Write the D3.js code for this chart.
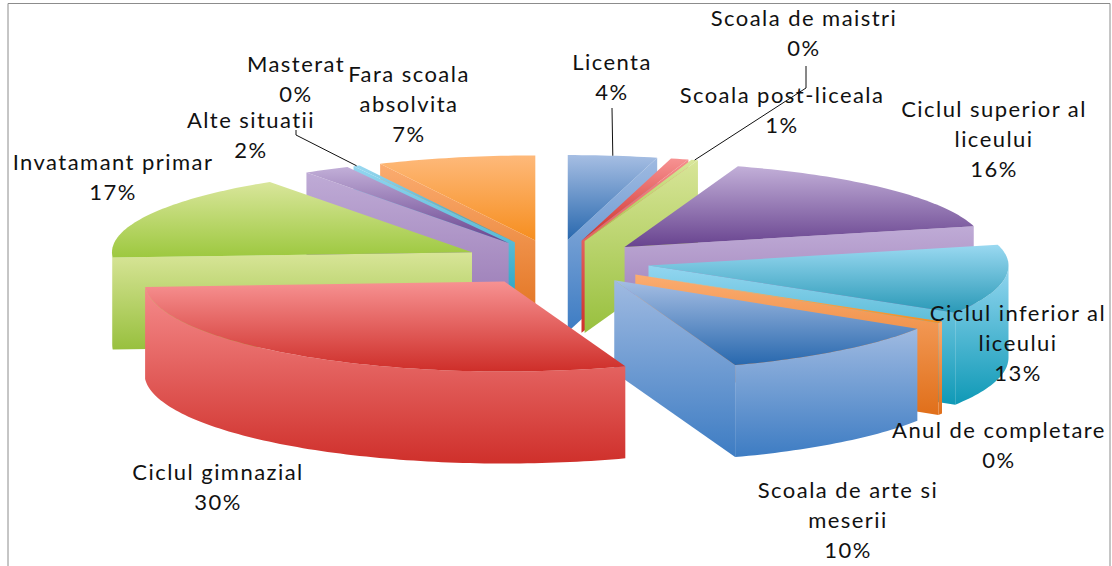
<!DOCTYPE html>
<html><head><meta charset="utf-8">
<script src="https://cdn.jsdelivr.net/npm/d3@7/dist/d3.min.js"></script>
<style>html,body{margin:0;padding:0;background:#fff}svg{display:block}</style>
</head><body><svg id="c" width="1112" height="566"></svg>
<script>
// Data, clockwise from 12 o'clock
const categories = ["Licenta","Scoala post-liceala","Scoala de maistri","Ciclul superior al liceului","Ciclul inferior al liceului","Anul de completare","Scoala de arte si meserii","Ciclul gimnazial","Invatamant primar","Alte situatii","Masterat","Fara scoala absolvita"];
const values = [4.0,0.8,0.3,16.0,12.7,0.3,10.49,29.5,16.5,2.1,0.3,7.1];
const percentLabels = ["4%","1%","0%","16%","13%","0%","10%","30%","17%","2%","0%","7%"];
// Label line breaks
const labelLines = [["Licenta"],["Scoala post-liceala"],["Scoala de maistri"],["Ciclul superior al","liceului"],["Ciclul inferior al","liceului"],["Anul de completare"],["Scoala de arte si","meserii"],["Ciclul gimnazial"],["Invatamant primar"],["Alte situatii"],["Masterat"],["Fara scoala","absolvita"]];
// Layout
const labelX = [612,782,804,994,1018,999,848,218,113,251,296,409];
const labelTop = [70,103,26,117,321,438,498,480,170,128,72,82];
const leaderElbow = [null,null,[[806,66],[806,88]],null,null,null,null,null,null,null,[[296,130],[296,135]],null];
const leaderStart = {0:[612,108]};
const palette = [
 {top:["#A6BEE3","#2868AE"],wall:["#9FBAE1","#3D7CC3"]},
 {top:["#F79292","#CE2E29"],wall:["#F58B8B","#CF302B"]},
 {top:["#D9E69B","#9DC83F"],wall:["#D8E598","#98C03E"]},
 {top:["#C2AFD8","#68438F"],wall:["#BFABD6","#9473B0"]},
 {top:["#9AD9F1","#2A99B7"],wall:["#93D6F0","#0F99B6"]},
 {top:["#FEB97A","#F68E1F"],wall:["#FBAC70","#E06F1A"]}
];
const cx=556, cy=262, rx=360, ryBack=85, ryFront=90, depth=92, explode=0.26;

const svg=d3.select("#c");
const defs=svg.append("defs");
palette.forEach((p,i)=>{["top","wall"].forEach(k=>{
  const g=defs.append("linearGradient").attr("id",k+i).attr("x1",0).attr("y1",0).attr("x2",0).attr("y2",1);
  g.append("stop").attr("offset",0).attr("stop-color",p[k][0]);
  g.append("stop").attr("offset",1).attr("stop-color",p[k][1]);
});});

// frame
svg.append("path").attr("d",d3.line()([[8,566],[8,3.5],[1110,3.5],[1110,566]])).attr("fill","none").attr("stroke","#8c8c8c").attr("stroke-width",1);

const arcs=d3.pie().sort(null).startAngle(0).endAngle(2*Math.PI)(values);
const px=d3.scaleLinear().domain([-1,1]).range([cx-rx,cx+rx]);
const py=d3.scaleLinear().domain([-1,0,1]).range([cy-ryBack,cy,cy+ryFront]);
const line=d3.line();
function apexOf(d){const m=(d.startAngle+d.endAngle)/2;return [Math.sin(m)*explode,-Math.cos(m)*explode];}
function P(d,a,r,z){const e=apexOf(d);return [px(e[0]+r*Math.sin(a)),py(e[1]-r*Math.cos(a))+(z||0)];}
function arcPts(d,a0,a1,z){const n=Math.max(2,Math.ceil((a1-a0)/0.02));return d3.range(n+1).map(i=>P(d,a0+(a1-a0)*i/n,1,z));}

const order=arcs.map((d,i)=>{let m=(d.startAngle+d.endAngle)/2;return {d,i,k:Math.abs(m>Math.PI?m-2*Math.PI:m)};}).sort((a,b)=>d3.ascending(a.k,b.k));
const gPie=svg.append("g");
order.forEach(({d,i})=>{
  const c=i%palette.length, g=gPie.append("g");
  const face=(pts,k)=>g.append("path").attr("d",line(pts)+"Z").attr("fill",`url(#${k}${c})`);
  if(Math.sin(d.startAngle)<0){const a=P(d,0,0),b=P(d,d.startAngle,1);face([a,b,[b[0],b[1]+depth],[a[0],a[1]+depth]],"wall");}
  if(Math.sin(d.endAngle)>0){const a=P(d,0,0),b=P(d,d.endAngle,1);face([a,b,[b[0],b[1]+depth],[a[0],a[1]+depth]],"wall");}
  const a0=Math.max(d.startAngle,Math.PI/2),a1=Math.min(d.endAngle,3*Math.PI/2);
  if(a1>a0){face(arcPts(d,a0,a1,0).concat(arcPts(d,a0,a1,depth).reverse()),"wall");}
  face([P(d,0,0)].concat(arcPts(d,d.startAngle,d.endAngle,0)),"top");
});

// leader lines end on the slice's outer rim
arcs.forEach((d,i)=>{
  const end=P(d,(d.startAngle+d.endAngle)/2,1);
  const pre=leaderElbow[i]||(leaderStart[i]?[leaderStart[i]]:null);
  if(pre) svg.append("path").attr("d",line(pre.concat([end]))).attr("fill","none").attr("stroke","#111").attr("stroke-width",1);
});

// labels
const lg=svg.append("g").attr("font-family","Lato, 'Open Sans', sans-serif").attr("font-size",22).attr("letter-spacing","1.45px").attr("fill","#111").attr("text-anchor","middle");
categories.forEach((c,i)=>{
  const lines=labelLines[i].concat([percentLabels[i]]);
  lines.forEach((t,j)=>lg.append("text").attr("x",labelX[i]).attr("y",labelTop[i]+j*30).text(t));
});
</script></body></html>
